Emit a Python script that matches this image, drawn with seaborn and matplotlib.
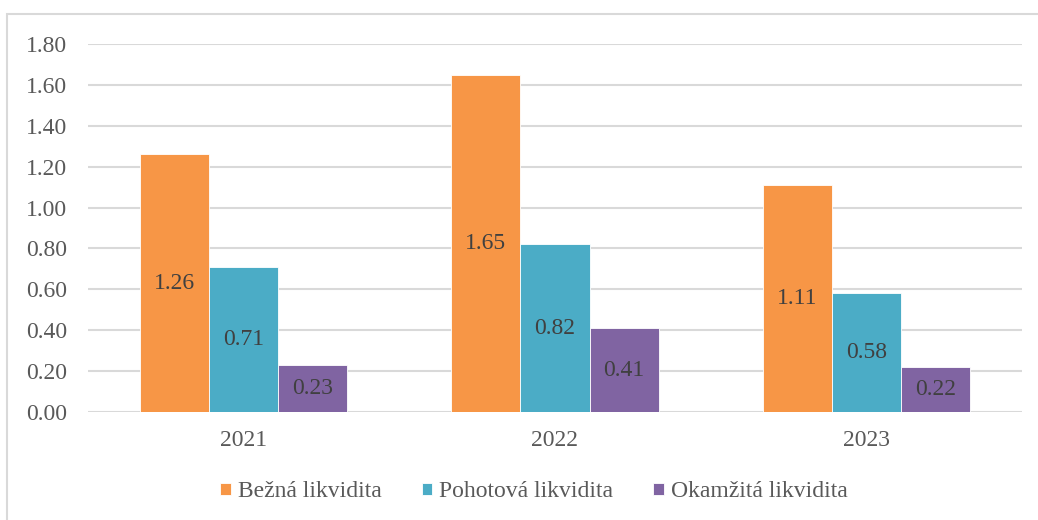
import pandas as pd
import matplotlib.pyplot as plt
import seaborn as sns
from matplotlib.patches import Rectangle

# data
years = ['2021', '2022', '2023']
series = ['Bežná likvidita', 'Pohotová likvidita', 'Okamžitá likvidita']
bezna = [1.26, 1.65, 1.11]
pohotova = [0.71, 0.82, 0.58]
okamzita = [0.23, 0.41, 0.22]
colors = ['#F79646', '#4BACC6', '#8064A2']
yticks = [0.0, 0.2, 0.4, 0.6, 0.8, 1.0, 1.2, 1.4, 1.6, 1.8]

df = pd.DataFrame({
    'rok': years * 3,
    'ukazatel': [s for s in series for _ in years],
    'hodnota': bezna + pohotova + okamzita,
})

sns.set_theme(style='white')
plt.rcParams['font.family'] = ['Liberation Serif', 'DejaVu Serif']

fig = plt.figure(figsize=(10.38, 5.2), dpi=100)
ax = fig.add_axes([88 / 1038, 1 - 412 / 520, 934 / 1038, 368 / 520])

# light frame around the chart (Excel style)
fig.patches.append(Rectangle((7 / 1038, -0.1), 1.2, 1 - 14 / 520 + 0.1,
                             transform=fig.transFigure, fill=False,
                             edgecolor='#D9D9D9', linewidth=1.5))

sns.barplot(data=df, x='rok', y='hodnota', hue='ukazatel', palette=colors,
            width=207 / 311, gap=0, saturation=1, ax=ax, legend=True,
            edgecolor='white', linewidth=0.6)

ax.set_ylim(0, 1.8)
ax.set_yticks(yticks)
ax.set_yticklabels([f'{t:.2f}' for t in yticks])
ax.yaxis.grid(True, color='#D9D9D9', linewidth=1.5)
ax.set_axisbelow(True)
for sp in ax.spines.values():
    sp.set_visible(False)
ax.set_xlabel('')
ax.set_ylabel('')
ax.tick_params(axis='both', labelsize=17, colors='#595959', length=0)
ax.tick_params(axis='y', pad=15)
ax.tick_params(axis='x', pad=13)

# hodnoty uprostred sloupcu
for cont in ax.containers:
    for p in cont:
        h = p.get_height()
        ax.text(p.get_x() + p.get_width() / 2, h / 2, f'{h:.2f}',
                ha='center', va='center', fontsize=17, color='#404040')

handles, labels = ax.get_legend_handles_labels()
ax.legend(handles, labels, loc='center', bbox_to_anchor=(0.4775, -0.217),
          ncol=3, frameon=False, fontsize=17, handlelength=0.45, handleheight=0.45,
          handletextpad=0.3, columnspacing=1.7, labelcolor='#595959')

plt.savefig('out.png', dpi=100)
